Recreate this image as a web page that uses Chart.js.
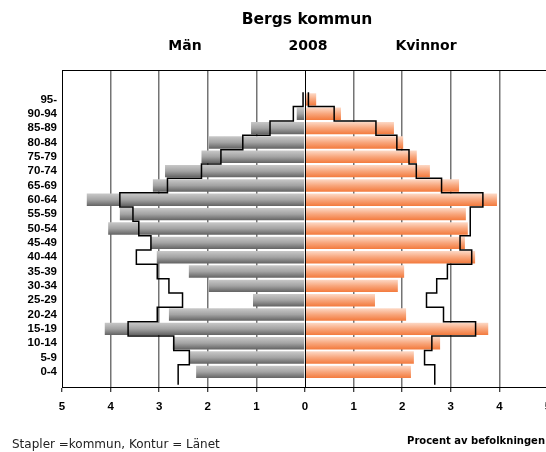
<!DOCTYPE html>
<html>
<head>
<meta charset="utf-8">
<script src="https://cdn.jsdelivr.net/npm/chart.js@4"></script>
<style>
    body { margin: 0; background: #fff; overflow: hidden; width: 546px; height: 452px; position: relative; }
    #wrap { position: absolute; left: 0; top: 0; width: 560px; height: 452px; }
    .txt { position: absolute; white-space: nowrap; color: #000; line-height: 1; }
    .head { font-family: "DejaVu Sans", sans-serif; font-weight: bold; transform: translateX(-50%); }
</style>
</head>
<body>
<div id="wrap"><canvas id="pyramid" width="560" height="452"></canvas></div>

<div class="txt head" style="left:307px; top:12px; font-size:15.5px;">Bergs kommun</div>
<div class="txt head" style="left:185px; top:38px; font-size:14px;">Män</div>
<div class="txt head" style="left:308px; top:38px; font-size:14px;">2008</div>
<div class="txt head" style="left:426px; top:38px; font-size:14px;">Kvinnor</div>
<div class="txt" style="left:12px; top:438px; font-family:'DejaVu Sans',sans-serif; font-size:12px; color:#222;">Stapler =kommun, Kontur = Länet</div>
<div class="txt" style="right:1px; top:436px; font-family:'DejaVu Sans',sans-serif; font-weight:bold; font-size:10px;">Procent av befolkningen</div>

<script>
// -------------------------
// DATA (bottom row first)
// -------------------------
const ageGroups = ["0-4", "5-9", "10-14", "15-19", "20-24", "25-29", "30-34", "35-39", "40-44", "45-49",
    "50-54", "55-59", "60-64", "65-69", "70-74", "75-79", "80-84", "85-89", "90-94", "95-"];

// kommun, % of population
const menKommun = [2.24, 2.37, 2.72, 4.12, 2.80, 1.07, 1.98, 2.39, 3.05, 3.18,
    4.05, 3.81, 4.49, 3.13, 2.88, 2.13, 1.98, 1.11, 0.17, 0.00];
const womenKommun = [2.18, 2.24, 2.78, 3.77, 2.08, 1.44, 1.91, 2.04, 3.50, 3.29,
    3.35, 3.31, 3.95, 3.17, 2.57, 2.30, 2.02, 1.83, 0.74, 0.23];

// länet (contour)
const menLan = [2.61, 2.38, 2.70, 3.64, 3.04, 2.52, 2.80, 3.04, 3.47, 3.17,
    3.42, 3.54, 3.81, 2.83, 2.13, 1.73, 1.28, 0.72, 0.24, 0.04];
const womenLan = [2.67, 2.46, 2.61, 3.51, 2.85, 2.50, 2.71, 2.93, 3.43, 3.19,
    3.40, 3.40, 3.66, 2.81, 2.29, 2.14, 1.89, 1.46, 0.60, 0.07];

const xTicks = [-5, -4, -3, -2, -1, 0, 1, 2, 3, 4, 5];

// -------------------------
// HELPERS
// -------------------------
function barFill(stops) {
    return (c) => {
        const solid = stops[1][1];
        const chart = c.chart;
        const y = chart.scales.y;
        if (!y || c.dataIndex === undefined) return solid;
        const mid = y.getPixelForValue(c.dataIndex);
        const half = Math.abs(y.getPixelForValue(1) - y.getPixelForValue(0)) * 0.43;
        if (!isFinite(mid) || !isFinite(half) || half <= 0) return solid;
        const g = chart.ctx.createLinearGradient(0, mid - half, 0, mid + half);
        stops.forEach(([o, col]) => g.addColorStop(o, col));
        return g;
    };
}

// step outline: one vertical segment per age group, joined at the group borders
function outline(values, sign) {
    const pts = [];
    values.forEach((v, i) => {
        pts.push({ x: sign * v, y: i === 0 ? -0.9 : i - 0.5 });
        pts.push({ x: sign * v, y: i + 0.5 });
    });
    return pts;
}

const framePlugin = {
    id: "frame",
    afterDatasetsDraw(chart) {
        const { ctx, chartArea, scales } = chart;
        const x0 = Math.round(scales.x.getPixelForValue(0)) + 0.5;
        ctx.save();
        ctx.strokeStyle = "#000";
        ctx.lineWidth = 1;
        ctx.beginPath();
        ctx.moveTo(x0, chartArea.top);
        ctx.lineTo(x0, chartArea.bottom);
        ctx.moveTo(chartArea.left, chartArea.top + 0.5);
        ctx.lineTo(chartArea.right, chartArea.top + 0.5);
        ctx.stroke();
        ctx.restore();
    }
};

const tickFont = { family: "'Liberation Sans', Arial, sans-serif", size: 11.5, weight: "bold" };

// -------------------------
// CHART
// -------------------------
new Chart(document.getElementById("pyramid"), {
    type: "bar",
    data: {
        datasets: [
            {
                type: "scatter",
                indexAxis: "x",
                data: outline(menLan, -1),
                showLine: true,
                borderColor: "#000",
                borderWidth: 1.5,
                pointRadius: 0,
                clip: false,
                order: 1
            },
            {
                type: "scatter",
                indexAxis: "x",
                data: outline(womenLan, 1),
                showLine: true,
                borderColor: "#000",
                borderWidth: 1.5,
                pointRadius: 0,
                clip: false,
                order: 1
            },
            {
                label: "Män",
                data: menKommun.map((v, i) => ({ x: -v, y: i })),
                backgroundColor: barFill([[0, "#c8c8c8"], [0.5, "#a3a3a3"], [1, "#636363"]]),
                grouped: false,
                barPercentage: 0.96,
                categoryPercentage: 0.9,
                borderWidth: 0,
                order: 2
            },
            {
                label: "Kvinnor",
                data: womenKommun.map((v, i) => ({ x: v, y: i })),
                backgroundColor: barFill([[0, "#fdd9c6"], [0.5, "#f8a67c"], [1, "#f37a3d"]]),
                grouped: false,
                barPercentage: 0.96,
                categoryPercentage: 0.9,
                borderWidth: 0,
                order: 2
            }
        ]
    },
    options: {
        indexAxis: "y",
        responsive: false,
        animation: false,
        devicePixelRatio: 1,
        layout: { padding: { left: 0, right: 12, top: 70, bottom: 35 } },
        plugins: {
            legend: { display: false },
            tooltip: { enabled: false }
        },
        scales: {
            x: {
                type: "linear",
                min: -5,
                max: 5,
                afterFit: (s) => { s.height = 30; },
                afterBuildTicks: (s) => { s.ticks = xTicks.map(v => ({ value: v })); },
                ticks: {
                    callback: (v) => Math.abs(v),
                    font: tickFont,
                    color: "#000",
                    padding: 8,
                    maxRotation: 0,
                    autoSkip: false
                },
                grid: {
                    color: (c) => (c.tick && (c.tick.value === 0 || c.tick.value === -5)) ? "rgba(0,0,0,0)" : "#747474",
                    lineWidth: 1.5,
                    tickColor: "#000",
                    tickLength: 5,
                    tickWidth: 1
                },
                border: { color: "#000", width: 1 }
            },
            y: {
                type: "linear",
                min: -0.5,
                max: 20.5,
                afterFit: (s) => { s.width = 62; },
                afterBuildTicks: (s) => { s.ticks = ageGroups.map((_, i) => ({ value: i })); },
                ticks: {
                    callback: (v) => ageGroups[v],
                    font: tickFont,
                    color: "#000",
                    padding: 5,
                    autoSkip: false
                },
                grid: { display: false, drawTicks: false, tickLength: 0 },
                border: { color: "#000", width: 1 }
            }
        }
    },
    plugins: [framePlugin]
});
</script>
</body>
</html>
